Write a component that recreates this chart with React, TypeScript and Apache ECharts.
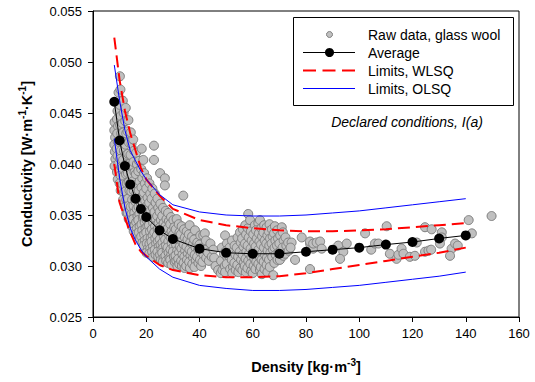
import React, { useEffect, useRef } from 'react';
import * as echarts from 'echarts';

// Average curve
const avgDensity = [8, 10, 12, 14, 16, 18, 20, 25, 30, 40, 50, 60, 70, 80, 90, 100, 110, 120, 130, 140];
const avgConductivity = [0.0461, 0.0423, 0.0398, 0.0380, 0.0366, 0.0356, 0.0348, 0.0335, 0.03265, 0.0317, 0.0313, 0.0312, 0.0312, 0.0314, 0.0316, 0.0318, 0.0321, 0.03235, 0.0327, 0.0330];

// Limit curves
const limDensity = [8, 10, 12, 14, 16, 18, 20, 25, 30, 40, 50, 60, 70, 80, 90, 100, 110, 120, 130, 140];
const wlsqUpper = [0.0524, 0.0482, 0.0452, 0.0430, 0.0413, 0.0396, 0.0385, 0.0369, 0.0356, 0.0345, 0.0340, 0.0337, 0.0335, 0.0334, 0.0334, 0.0335, 0.0336, 0.0338, 0.0340, 0.0342];
const wlsqLower = [0.0400, 0.0362, 0.0347, 0.0333, 0.0321, 0.0314, 0.0310, 0.0301, 0.0296, 0.0291, 0.0289, 0.0289, 0.0290, 0.0293, 0.0297, 0.0301, 0.0305, 0.0309, 0.0313, 0.0318];
const olsqUpper = [0.0497, 0.0462, 0.0433, 0.0413, 0.0403, 0.0393, 0.0385, 0.0370, 0.0360, 0.0353, 0.0350, 0.0349, 0.0349, 0.0350, 0.0352, 0.0354, 0.0357, 0.0360, 0.0363, 0.0366];
const olsqLower = [0.0425, 0.0386, 0.0357, 0.0337, 0.0325, 0.0316, 0.0309, 0.0297, 0.0289, 0.0281, 0.0278, 0.0276, 0.0276, 0.0277, 0.0279, 0.0281, 0.0284, 0.0287, 0.0290, 0.0294];

// Raw data, glass wool: [density, conductivity]
const rawSteep: [number, number][] = [
  [8.1, 0.0441], [8.0, 0.0433], [8.3, 0.0426], [8.0, 0.0419], [8.2, 0.0412], [8.4, 0.0405], [8.1, 0.0398],
  [9.6, 0.0470], [9.2, 0.0452], [9.0, 0.0444], [9.4, 0.0437], [9.1, 0.0430], [9.3, 0.0422], [8.9, 0.0415], [9.2, 0.0408], [9.5, 0.0400], [9.0, 0.0392], [9.3, 0.0385],
  [10.1, 0.0486], [10.3, 0.0473], [10.0, 0.0458], [10.4, 0.0447], [10.2, 0.0438], [10.6, 0.0430], [10.1, 0.0421], [10.5, 0.0413], [10.2, 0.0405], [10.6, 0.0397], [10.3, 0.0389], [10.0, 0.0381], [10.4, 0.0374],
  [11.2, 0.0462], [11.5, 0.0450], [11.1, 0.0440], [11.4, 0.0431], [11.0, 0.0422], [11.6, 0.0413], [11.3, 0.0404], [11.0, 0.0396], [11.5, 0.0388], [11.2, 0.0380], [11.6, 0.0372], [11.3, 0.0365],
  [12.3, 0.0455], [12.1, 0.0442], [12.5, 0.0430], [12.2, 0.0419], [12.6, 0.0409], [12.0, 0.0399], [12.4, 0.0390], [12.7, 0.0381], [12.2, 0.0373], [12.5, 0.0365], [12.1, 0.0358], [12.6, 0.0352],
  [13.3, 0.0443], [13.0, 0.0432], [13.5, 0.0421], [13.2, 0.0410], [13.6, 0.0400], [13.1, 0.0391], [13.4, 0.0382], [13.7, 0.0374], [13.2, 0.0366], [13.5, 0.0359], [13.0, 0.0352], [13.4, 0.0346],
  [14.2, 0.0431], [14.5, 0.0420], [14.1, 0.0409], [14.6, 0.0399], [14.3, 0.0390], [14.0, 0.0381], [14.4, 0.0373], [14.7, 0.0365], [14.2, 0.0358], [14.5, 0.0351], [14.1, 0.0345], [14.6, 0.0339],
  [15.1, 0.0424], [15.4, 0.0413], [15.2, 0.0402], [15.6, 0.0392], [15.0, 0.0383], [15.3, 0.0374], [15.7, 0.0366], [15.2, 0.0359], [15.5, 0.0352], [15.1, 0.0346], [15.6, 0.0340], [15.3, 0.0334],
  [16.2, 0.0411], [16.5, 0.0400], [16.1, 0.0390], [16.6, 0.0380], [16.3, 0.0371], [16.0, 0.0363], [16.4, 0.0356], [16.7, 0.0349], [16.2, 0.0343], [16.5, 0.0337], [16.1, 0.0331],
  [17.3, 0.0403], [17.0, 0.0393], [17.5, 0.0383], [17.2, 0.0374], [17.6, 0.0366], [17.1, 0.0358], [17.4, 0.0351], [17.0, 0.0345], [17.5, 0.0339], [17.2, 0.0333], [17.6, 0.0327],
  [18.3, 0.0415], [18.9, 0.0404], [18.1, 0.0395], [18.5, 0.0386], [18.2, 0.0377], [18.6, 0.0369], [18.0, 0.0361], [18.4, 0.0354], [18.7, 0.0347], [18.2, 0.0341], [18.5, 0.0335], [18.1, 0.0329], [18.6, 0.0323],
  [19.2, 0.0391], [19.5, 0.0381], [19.1, 0.0372], [19.6, 0.0364], [19.3, 0.0356], [19.0, 0.0349], [19.4, 0.0343], [19.7, 0.0337], [19.2, 0.0331], [19.5, 0.0325], [19.1, 0.0320],
  [20.3, 0.0386], [20.0, 0.0376], [20.5, 0.0367], [20.2, 0.0359], [20.6, 0.0352], [20.1, 0.0345], [20.4, 0.0339], [20.0, 0.0333], [20.5, 0.0327], [20.2, 0.0322], [20.6, 0.0317], [20.1, 0.0313],
];

const rawMid: [number, number][] = [
  [21.2, 0.0381], [21.5, 0.0371], [21.1, 0.0362], [21.6, 0.0354], [21.3, 0.0347], [21.0, 0.0340], [21.4, 0.0334], [21.7, 0.0328], [21.2, 0.0322], [21.5, 0.0317], [21.1, 0.0312],
  [22.3, 0.0376], [22.0, 0.0366], [22.5, 0.0357], [22.2, 0.0349], [22.6, 0.0342], [22.1, 0.0336], [22.4, 0.0330], [22.0, 0.0324], [22.5, 0.0319], [22.2, 0.0314], [22.6, 0.0309],
  [22.9, 0.0418], [22.9, 0.0404], [23.2, 0.0371], [23.5, 0.0362], [23.1, 0.0353], [23.6, 0.0346], [23.3, 0.0339], [23.0, 0.0333], [23.4, 0.0327], [23.7, 0.0322], [23.2, 0.0316], [23.5, 0.0311],
  [24.2, 0.0366], [24.5, 0.0357], [24.1, 0.0349], [24.6, 0.0342], [24.3, 0.0336], [24.0, 0.0330], [24.4, 0.0324], [24.7, 0.0319], [24.2, 0.0314], [24.5, 0.0309],
  [25.2, 0.0391], [25.3, 0.0361], [25.0, 0.0353], [25.5, 0.0345], [25.2, 0.0338], [25.6, 0.0332], [25.1, 0.0326], [25.4, 0.0321], [25.7, 0.0316], [25.2, 0.0311], [25.5, 0.0306],
  [26.3, 0.0357], [26.0, 0.0349], [26.5, 0.0342], [26.2, 0.0335], [26.6, 0.0329], [26.1, 0.0323], [26.4, 0.0318], [26.0, 0.0313], [26.5, 0.0308], [26.2, 0.0304],
  [27.0, 0.0386], [27.0, 0.0379], [27.3, 0.0354], [27.6, 0.0346], [27.2, 0.0339], [27.5, 0.0332], [27.1, 0.0326], [27.4, 0.0320], [27.7, 0.0315], [27.2, 0.0310], [27.5, 0.0305],
  [28.2, 0.0352], [28.5, 0.0344], [28.1, 0.0337], [28.6, 0.0330], [28.3, 0.0324], [28.0, 0.0318], [28.4, 0.0313], [28.7, 0.0308], [28.2, 0.0303],
  [29.3, 0.0348], [29.0, 0.0341], [29.5, 0.0334], [29.2, 0.0328], [29.6, 0.0322], [29.1, 0.0316], [29.4, 0.0311], [29.0, 0.0306], [29.5, 0.0301],
  [30.2, 0.0345], [30.5, 0.0338], [30.1, 0.0331], [30.6, 0.0325], [30.3, 0.0319], [30.0, 0.0314], [30.4, 0.0309], [30.7, 0.0304],
  [31.4, 0.0346], [31.1, 0.0336], [31.5, 0.0328], [31.2, 0.0321], [31.6, 0.0315], [31.0, 0.0310], [31.3, 0.0305], [31.7, 0.0300],
  [32.2, 0.0341], [32.5, 0.0333], [32.1, 0.0326], [32.6, 0.0319], [32.3, 0.0313], [32.0, 0.0307], [32.4, 0.0302],
  [33.3, 0.0339], [33.0, 0.0331], [33.5, 0.0324], [33.2, 0.0317], [33.6, 0.0311], [33.1, 0.0305], [33.4, 0.0300],
  [33.9, 0.0369], [34.2, 0.0336], [34.5, 0.0328], [34.1, 0.0321], [34.6, 0.0315], [34.3, 0.0309], [34.0, 0.0303], [34.4, 0.0298],
  [35.2, 0.0334], [35.5, 0.0326], [35.1, 0.0319], [35.6, 0.0312], [35.3, 0.0306], [35.0, 0.0300],
  [36.3, 0.0340], [36.0, 0.0331], [36.5, 0.0323], [36.2, 0.0316], [36.6, 0.0310], [36.1, 0.0304], [36.4, 0.0298],
  [37.2, 0.0329], [37.5, 0.0321], [37.1, 0.0314], [37.6, 0.0308], [37.3, 0.0302],
  [38.3, 0.0335], [38.0, 0.0326], [38.5, 0.0318], [38.2, 0.0311], [38.6, 0.0305], [38.1, 0.0299],
  [39.2, 0.0323], [39.5, 0.0316], [39.1, 0.0309], [39.6, 0.0303],
  [40.3, 0.0330], [40.0, 0.0321], [40.5, 0.0313], [40.2, 0.0306], [40.6, 0.0300],
  [41.4, 0.0330], [41.2, 0.0318], [41.5, 0.0311], [41.1, 0.0304],
  [42.0, 0.0332], [42.4, 0.0325], [42.1, 0.0316], [42.5, 0.0308],
  [43.2, 0.0313], [43.5, 0.0305], [44.1, 0.0322], [44.6, 0.0309], [45.2, 0.0316], [45.5, 0.0308], [46.0, 0.0300], [47.0, 0.0296], [48.0, 0.0293],
];

const rawPlateau: [number, number][] = [
  [48.4, 0.0318], [48.1, 0.0305], [48.6, 0.0296],
  [49.6, 0.0330], [49.2, 0.0312], [49.5, 0.0300], [49.6, 0.0294],
  [50.3, 0.0322], [50.0, 0.0315], [50.5, 0.0308], [50.2, 0.0302],
  [51.3, 0.0318], [51.0, 0.0310], [51.5, 0.0297],
  [52.2, 0.0325], [52.5, 0.0314], [52.1, 0.0306], [52.6, 0.0299], [52.3, 0.0293],
  [53.2, 0.0320], [53.5, 0.0311], [53.1, 0.0303], [53.6, 0.0296],
  [54.3, 0.0328], [54.0, 0.0318], [54.5, 0.0309], [54.2, 0.0301], [54.6, 0.0294],
  [55.2, 0.0333], [55.5, 0.0323], [55.1, 0.0314], [55.6, 0.0306], [55.3, 0.0298],
  [56.3, 0.0336], [56.0, 0.0327], [56.5, 0.0319], [56.2, 0.0311], [56.6, 0.0303], [56.1, 0.0296],
  [57.2, 0.0340], [57.5, 0.0331], [57.1, 0.0322], [57.6, 0.0314], [57.3, 0.0307], [57.0, 0.0300], [57.4, 0.0294],
  [58.3, 0.0351], [58.2, 0.0337], [58.5, 0.0328], [58.1, 0.0320], [58.6, 0.0312], [58.3, 0.0305], [58.0, 0.0298],
  [59.0, 0.0345], [59.3, 0.0334], [59.6, 0.0325], [59.2, 0.0317], [59.5, 0.0309], [59.1, 0.0302], [59.4, 0.0295],
  [60.8, 0.0340], [60.2, 0.0331], [60.5, 0.0322], [60.1, 0.0314], [60.6, 0.0307], [60.3, 0.0300], [60.0, 0.0293],
  [62.1, 0.0342], [61.2, 0.0335], [61.5, 0.0327], [61.1, 0.0319], [61.6, 0.0311], [61.3, 0.0304], [61.0, 0.0297],
  [62.7, 0.0345], [62.3, 0.0332], [62.5, 0.0324], [62.2, 0.0316], [62.6, 0.0309], [62.1, 0.0302], [62.7, 0.0296],
  [63.2, 0.0337], [63.5, 0.0329], [63.1, 0.0321], [63.6, 0.0313], [63.3, 0.0306], [63.0, 0.0299], [63.4, 0.0292],
  [64.3, 0.0340], [64.0, 0.0333], [64.5, 0.0325], [64.2, 0.0318], [64.6, 0.0311], [64.1, 0.0304], [64.4, 0.0297],
  [65.2, 0.0338], [65.5, 0.0330], [65.1, 0.0322], [65.6, 0.0315], [65.3, 0.0308], [65.2, 0.0301], [65.5, 0.0294],
  [66.3, 0.0341], [66.0, 0.0334], [66.5, 0.0327], [66.2, 0.0320], [66.6, 0.0313], [66.1, 0.0306], [66.4, 0.0299],
  [67.2, 0.0336], [67.5, 0.0329], [67.1, 0.0322], [67.6, 0.0316], [67.3, 0.0309], [67.7, 0.0291],
  [68.3, 0.0339], [68.0, 0.0332], [68.5, 0.0325], [68.2, 0.0318], [68.6, 0.0311], [68.1, 0.0303],
  [69.2, 0.0335], [69.5, 0.0327], [69.1, 0.0320], [69.6, 0.0313], [69.3, 0.0306],
  [70.9, 0.0338], [70.3, 0.0330], [70.0, 0.0322], [70.5, 0.0315], [70.2, 0.0306],
  [71.3, 0.0333], [71.6, 0.0325], [71.2, 0.0318], [71.5, 0.0310],
  [72.3, 0.0328], [72.6, 0.0320], [72.2, 0.0312],
  [73.3, 0.0323], [73.5, 0.0315], [74.6, 0.0323], [74.2, 0.0318], [75.9, 0.0306],
];

const rawSparse: [number, number][] = [
  [78.4, 0.0328], [81.5, 0.0322], [81.5, 0.0324], [82.7, 0.0317], [82.7, 0.0322], [84.0, 0.0323], [85.3, 0.0324], [85.9, 0.0317], [81.5, 0.0297],
  [92.1, 0.0320], [95.3, 0.0322], [94.0, 0.0314], [92.8, 0.0307],
  [102.2, 0.0332], [104.5, 0.0316], [105.9, 0.0322], [107.2, 0.0322],
  [110.3, 0.0339], [111.5, 0.0312], [114.0, 0.0307], [114.7, 0.0311], [115.9, 0.0317], [116.6, 0.0312], [119.0, 0.0309], [120.9, 0.0310],
  [121.6, 0.0323], [124.7, 0.0338], [127.2, 0.0336], [124.7, 0.0314], [126.0, 0.0315], [127.0, 0.0316],
  [131.0, 0.0333], [131.0, 0.0328], [130.3, 0.0322], [134.7, 0.0317], [136.0, 0.0322], [137.0, 0.0320], [134.1, 0.0310],
  [141.1, 0.0345], [142.3, 0.0332], [149.7, 0.0349],
];

const xTicks = { min: 0, max: 160, interval: 20 };
const yTicks = { min: 0.025, max: 0.055, interval: 0.005 };

const legendLabels = ['Raw data, glass wool', 'Average', 'Limits, WLSQ', 'Limits, OLSQ'];
const noteText = 'Declared conditions, I(a)';

const FONT = '"Liberation Sans", Arial, Helvetica, sans-serif';

export default function App() {
  const ref = useRef<HTMLDivElement>(null);
  useEffect(() => {
    if (!ref.current) return;
    const chart = echarts.init(ref.current, null, { renderer: 'svg' });
    const pair = (xs: number[], ys: number[]) => xs.map((x, i) => [x, ys[i]]);
    const rawAll = [...rawSteep, ...rawMid, ...rawPlateau, ...rawSparse];
    const axisLineStyle = { color: '#000', width: 1 };
    const labelStyle = { color: '#000', fontSize: 13, fontFamily: FONT };
    const nameRich = {
      b: { fontFamily: FONT, fontSize: 14.5, fontWeight: 'bold', color: '#000', lineHeight: 20 },
      s: { fontFamily: FONT, fontSize: 10, fontWeight: 'bold', color: '#000', verticalAlign: 'top', lineHeight: 12 },
    };
    const legendTop = 17.5;
    const rowY = [34.5, 52.5, 70.5, 88.5];
    const textX = 368;
    chart.setOption({
      animation: false,
      backgroundColor: '#fff',
      grid: { left: 93, top: 11, right: 16, bottom: 65, show: true, borderColor: '#000', borderWidth: 1 },
      xAxis: {
        type: 'value',
        min: xTicks.min, max: xTicks.max, interval: xTicks.interval,
        axisLine: { show: true, onZero: false, lineStyle: axisLineStyle },
        axisTick: { show: true, inside: false, length: 5, lineStyle: axisLineStyle },
        axisLabel: { ...labelStyle, margin: 10 },
        splitLine: { show: false },
        name: '{b|Density [kg·m}{s|-3}{b|]}',
        nameLocation: 'middle',
        nameGap: 40,
        nameTextStyle: { rich: nameRich },
      },
      yAxis: {
        type: 'value',
        min: yTicks.min, max: yTicks.max, interval: yTicks.interval,
        axisLine: { show: true, onZero: false, lineStyle: axisLineStyle },
        axisTick: { show: true, inside: false, length: 5, lineStyle: axisLineStyle },
        axisLabel: { ...labelStyle, margin: 11, formatter: (v: number) => v.toFixed(3) },
        splitLine: { show: false },
        name: '{b|Conductivity [W·m}{s|-1}{b|·K}{s|-1}{b|]}',
        nameLocation: 'middle',
        nameRotate: 90,
        nameGap: 56,
        nameTextStyle: { rich: nameRich },
      },
      series: [
        {
          name: legendLabels[0],
          type: 'scatter',
          data: rawAll,
          symbol: 'circle',
          symbolSize: 9,
          itemStyle: { color: '#c0c0c0', borderColor: '#808080', borderWidth: 1, opacity: 1 },
          z: 2,
          silent: true,
        },
        {
          name: legendLabels[2], type: 'line', data: pair(limDensity, wlsqUpper), symbol: 'none',
          lineStyle: { color: '#ff0000', width: 2, type: [12, 6] }, z: 3, silent: true,
        },
        {
          name: legendLabels[2], type: 'line', data: pair(limDensity, wlsqLower), symbol: 'none',
          lineStyle: { color: '#ff0000', width: 2, type: [12, 6] }, z: 3, silent: true,
        },
        {
          name: legendLabels[3], type: 'line', data: pair(limDensity, olsqUpper), symbol: 'none',
          lineStyle: { color: '#0000ff', width: 1 }, z: 3, silent: true,
        },
        {
          name: legendLabels[3], type: 'line', data: pair(limDensity, olsqLower), symbol: 'none',
          lineStyle: { color: '#0000ff', width: 1 }, z: 3, silent: true,
        },
        {
          name: legendLabels[1], type: 'line', data: pair(avgDensity, avgConductivity),
          symbol: 'circle', symbolSize: 10,
          itemStyle: { color: '#000' },
          lineStyle: { color: '#000', width: 1 }, z: 5, silent: true,
        },
      ],
      graphic: [
        {
          type: 'rect', z: 100,
          shape: { x: 293.5, y: legendTop, width: 220, height: 88 },
          style: { fill: '#fff', stroke: '#000', lineWidth: 1 },
        },
        { type: 'circle', z: 101, shape: { cx: 329.5, cy: rowY[0], r: 3 }, style: { fill: '#c0c0c0', stroke: '#808080', lineWidth: 1 } },
        { type: 'line', z: 101, shape: { x1: 303, y1: rowY[1], x2: 355, y2: rowY[1] }, style: { stroke: '#000', lineWidth: 1 } },
        { type: 'circle', z: 102, shape: { cx: 329.5, cy: rowY[1], r: 4.5 }, style: { fill: '#000' } },
        { type: 'line', z: 101, shape: { x1: 303, y1: rowY[2], x2: 355, y2: rowY[2] }, style: { stroke: '#ff0000', lineWidth: 2, lineDash: [13, 6.5] } },
        { type: 'line', z: 101, shape: { x1: 303, y1: rowY[3], x2: 355, y2: rowY[3] }, style: { stroke: '#0000ff', lineWidth: 1 } },
        ...legendLabels.map((t, i) => ({
          type: 'text', z: 101, x: textX, y: rowY[i],
          style: { text: t, fontFamily: FONT, fontSize: 14, fill: '#000', verticalAlign: 'middle', align: 'left' },
        })),
        {
          type: 'text', z: 101, x: 407, y: 122,
          style: { text: noteText, fontFamily: FONT, fontSize: 14, fontStyle: 'italic', fill: '#000', verticalAlign: 'middle', align: 'center' },
        },
      ],
    });
    return () => chart.dispose();
  }, []);
  return (
    <div
      ref={ref}
      style={{ position: 'fixed', left: 0, top: 0, width: 535, height: 382, background: '#fff' }}
    />
  );
}
